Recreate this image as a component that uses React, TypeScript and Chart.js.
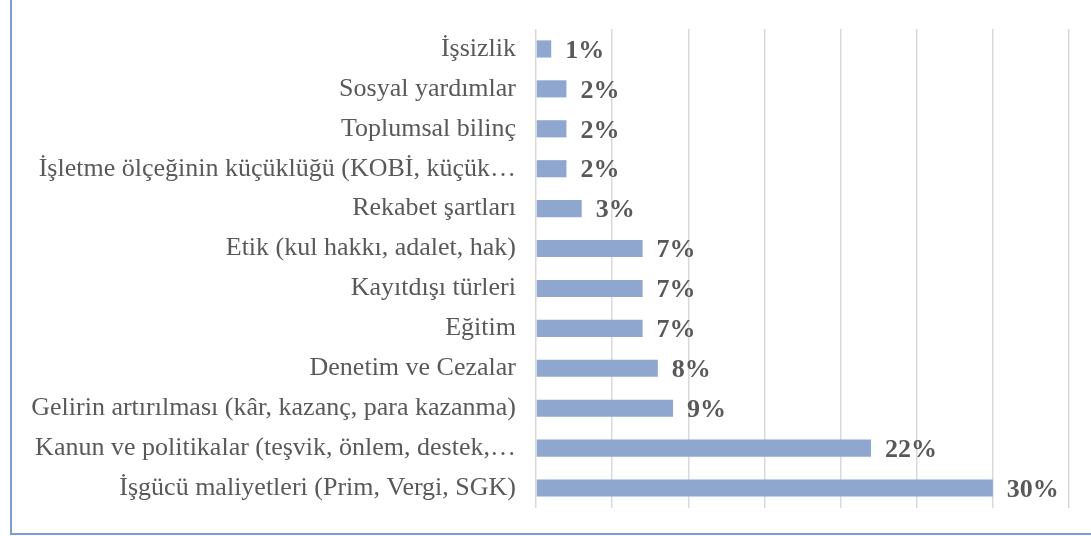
import React, { useEffect, useRef } from "react";
import { Chart, registerables } from "chart.js";

Chart.register(...registerables);

const categories: string[] = [
  "İşsizlik",
  "Sosyal yardımlar",
  "Toplumsal bilinç",
  "İşletme ölçeğinin küçüklüğü (KOBİ, küçük…",
  "Rekabet şartları",
  "Etik (kul hakkı, adalet, hak)",
  "Kayıtdışı türleri",
  "Eğitim",
  "Denetim ve Cezalar",
  "Gelirin artırılması (kâr, kazanç, para kazanma)",
  "Kanun ve politikalar (teşvik, önlem, destek,…",
  "İşgücü maliyetleri (Prim, Vergi, SGK)",
];

const values: number[] = [1, 2, 2, 2, 3, 7, 7, 7, 8, 9, 22, 30];

const valueLabels: string[] = ["1%", "2%", "2%", "2%", "3%", "7%", "7%", "7%", "8%", "9%", "22%", "30%"];

const xMax = 35;
const xStep = 5;

const valueLabelPlugin = {
  id: "valueLabels",
  afterDatasetsDraw(chart: any) {
    const ctx = chart.ctx;
    const meta = chart.getDatasetMeta(0);
    ctx.save();
    ctx.font = "bold 26px 'Liberation Serif', serif";
    ctx.fillStyle = "#595959";
    ctx.textAlign = "left";
    ctx.textBaseline = "middle";
    meta.data.forEach((bar: any, i: number) => {
      ctx.fillText(valueLabels[i], bar.x + 14, bar.y + 2);
    });
    ctx.restore();
  },
};

export default function App() {
  const ref = useRef<HTMLCanvasElement | null>(null);

  useEffect(() => {
    if (!ref.current) return;
    const chart = new Chart(ref.current, {
      type: "bar",
      data: {
        labels: categories,
        datasets: [
          {
            data: values,
            backgroundColor: "#8FA7CF",
            borderWidth: 0,
            categoryPercentage: 1,
            barPercentage: 0.43,
          },
        ],
      },
      options: {
        indexAxis: "y",
        animation: false,
        responsive: false,
        maintainAspectRatio: false,
        layout: { padding: { left: 0, right: 22, top: 29, bottom: 28 } },
        plugins: {
          legend: { display: false },
          tooltip: { enabled: false },
        },
        scales: {
          x: {
            min: 0,
            max: xMax,
            ticks: { display: false, stepSize: xStep },
            grid: { color: "#D9D9D9", lineWidth: 1.5, drawTicks: false },
            border: { display: false },
          },
          y: {
            afterFit: (s: any) => {
              s.width = 536;
              s.paddingTop = 0;
              s.paddingBottom = 0;
            },
            ticks: {
              color: "#595959",
              padding: 20,
              font: { family: "'Liberation Serif', serif", size: 26 },
            },
            grid: { display: false, drawTicks: false },
            border: { display: false },
          },
        },
      },
      plugins: [valueLabelPlugin],
    });
    return () => chart.destroy();
  }, []);

  return (
    <div style={{ position: "fixed", left: 0, top: 0, width: 1091, height: 536, background: "#fff", overflow: "hidden" }}>
      <div
        style={{
          position: "absolute",
          left: 10,
          top: -10,
          width: 1200,
          height: 545,
          borderLeft: "2px solid #7C9DD3",
          borderBottom: "2px solid #7C9DD3",
          boxSizing: "border-box",
        }}
      />
      <canvas ref={ref} width={1091} height={536} style={{ position: "absolute", left: 0, top: 0 }} />
    </div>
  );
}
